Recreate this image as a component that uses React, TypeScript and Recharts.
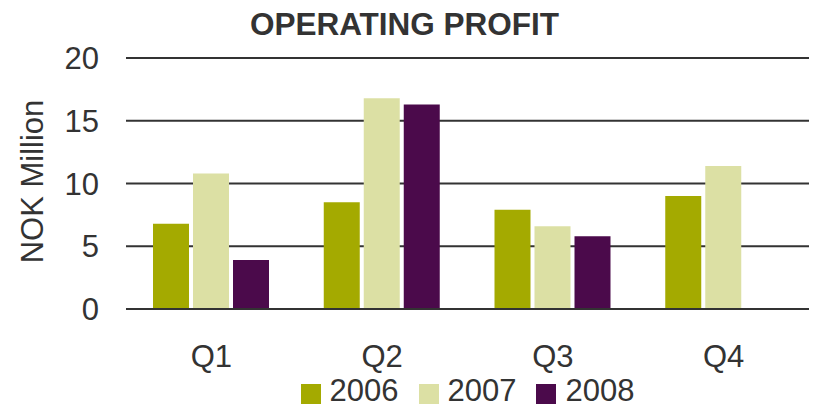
import React from 'react';
import { BarChart, Bar, XAxis, YAxis, CartesianGrid, Legend, Label } from 'recharts';

const quarters = ['Q1', 'Q2', 'Q3', 'Q4'];
const profit2006 = [6.8, 8.5, 7.9, 9.0];
const profit2007 = [10.8, 16.8, 6.6, 11.4];
const profit2008: (number | null)[] = [3.9, 16.3, 5.8, null];
const yTicks = [0, 5, 10, 15, 20];
const seriesNames = ['2006', '2007', '2008'];
const seriesColors = ['#A4AA00', '#DCE0A4', '#4B0A4B'];
const titleText = 'OPERATING PROFIT';
const yLabelText = 'NOK Million';

const data = quarters.map((q, i) => ({
  quarter: q,
  '2006': profit2006[i],
  '2007': profit2007[i],
  '2008': profit2008[i],
}));

const FONT = '"Liberation Sans", Arial, Helvetica, sans-serif';
const TEXT = '#333333';

const renderLegend = () => (
  <div
    style={{
      display: 'flex',
      justifyContent: 'center',
      alignItems: 'center',
      fontFamily: FONT,
      fontSize: 31,
      lineHeight: '28px',
      height: 28,
      color: TEXT,
    }}
  >
    {seriesNames.map((n, i) => (
      <div key={n} style={{ display: 'flex', alignItems: 'center', marginRight: i < seriesNames.length - 1 ? 20 : 0 }}>
        <div style={{ width: 20, height: 20, background: seriesColors[i], marginRight: 9, marginTop: 6 }} />
        <span>{n}</span>
      </div>
    ))}
  </div>
);

const YLabel = (props: any) => {
  const vb = props.viewBox || { x: 0, y: 58, width: 126, height: 251 };
  const cx = vb.x + 43;
  const cy = vb.y + vb.height / 2 - 2;
  return (
    <text
      x={cx}
      y={cy}
      textAnchor="middle"
      transform={`rotate(-90 ${cx} ${cy})`}
      fontFamily={FONT}
      fontSize={31}
      fill={TEXT}
    >
      {yLabelText}
    </text>
  );
};

export default function App() {
  return (
    <div style={{ position: 'absolute', left: 0, top: 0, width: 815, height: 409, background: '#fff' }}>
      <div
        style={{
          position: 'absolute',
          left: -3,
          top: 9,
          width: 815,
          textAlign: 'center',
          fontFamily: FONT,
          fontWeight: 'bold',
          fontSize: 31.5,
          lineHeight: '31px',
          color: TEXT,
          zIndex: 2,
        }}
      >
        {titleText}
      </div>
      <BarChart
        width={815}
        height={409}
        data={data}
        margin={{ top: 58, right: 6, bottom: 0, left: 0 }}
        barSize={36}
        barGap={4}
      >
        <CartesianGrid vertical={false} stroke="#333333" strokeWidth={2} />
        <XAxis
          dataKey="quarter"
          height={72}
          tickLine={false}
          tickSize={0}
          tickMargin={36}
          axisLine={{ stroke: '#333333', strokeWidth: 2 }}
          tick={{ fontFamily: FONT, fontSize: 31, fill: TEXT }}
        />
        <YAxis
          width={126}
          domain={[0, 20]}
          ticks={yTicks}
          axisLine={false}
          tickLine={false}
          tickSize={0}
          tickMargin={27}
          tick={{ fontFamily: FONT, fontSize: 31, fill: TEXT }}
        >
          <Label content={<YLabel />} />
        </YAxis>
        <Legend
          layout="vertical"
          align="center"
          verticalAlign="bottom"
          content={renderLegend}
          wrapperStyle={{ left: 126, width: 683, top: 377, bottom: 'auto' }}
        />
        {seriesNames.map((n, i) => (
          <Bar key={n} dataKey={n} fill={seriesColors[i]} isAnimationActive={false} />
        ))}
      </BarChart>
    </div>
  );
}
